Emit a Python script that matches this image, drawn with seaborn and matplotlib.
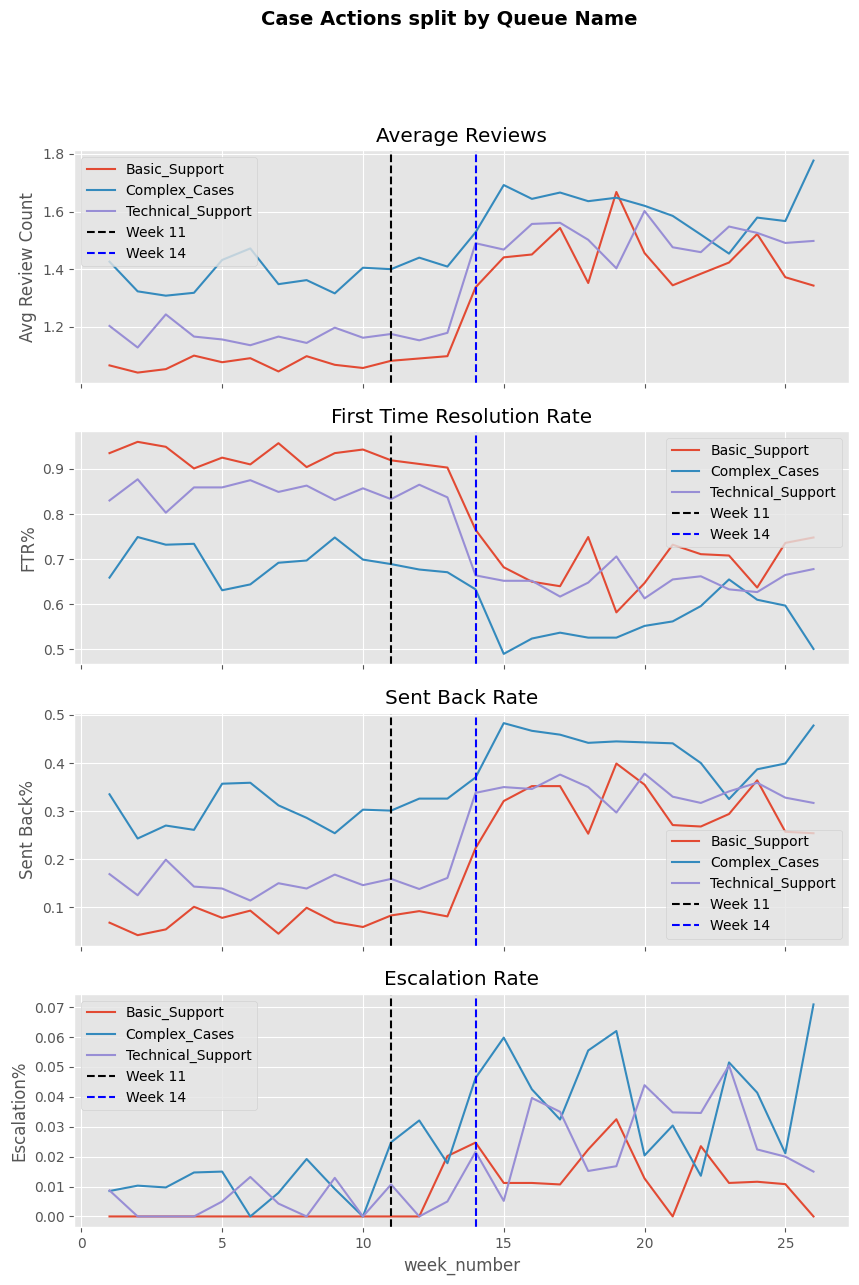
"""Case actions per queue: weekly metrics with marker lines for weeks 11 and 14."""

import matplotlib

matplotlib.use("Agg")
import matplotlib.pyplot as plt
import seaborn as sns

weeks = list(range(1, 27))
queues = ["Basic_Support", "Complex_Cases", "Technical_Support"]

avg_reviews = {
    "Basic_Support": [1.066, 1.041, 1.053, 1.100, 1.077, 1.091, 1.045, 1.098, 1.068, 1.057,
                      1.082, 1.090, 1.098, 1.337, 1.441, 1.451, 1.543, 1.352, 1.668, 1.456,
                      1.344, 1.384, 1.423, 1.522, 1.372, 1.343],
    "Complex_Cases": [1.426, 1.323, 1.308, 1.318, 1.432, 1.472, 1.348, 1.362, 1.316, 1.405,
                      1.400, 1.440, 1.409, 1.528, 1.692, 1.644, 1.666, 1.636, 1.648, 1.620,
                      1.585, 1.520, 1.454, 1.579, 1.567, 1.777],
    "Technical_Support": [1.203, 1.128, 1.243, 1.166, 1.156, 1.136, 1.166, 1.144, 1.197, 1.162,
                          1.175, 1.153, 1.179, 1.490, 1.468, 1.557, 1.561, 1.502, 1.403, 1.602,
                          1.476, 1.459, 1.548, 1.526, 1.491, 1.498],
}

ftr_rate = {
    "Basic_Support": [0.935, 0.960, 0.949, 0.901, 0.925, 0.910, 0.957, 0.904, 0.935, 0.943,
                      0.919, 0.911, 0.903, 0.765, 0.682, 0.650, 0.640, 0.749, 0.582, 0.647,
                      0.732, 0.711, 0.708, 0.637, 0.736, 0.748],
    "Complex_Cases": [0.659, 0.749, 0.732, 0.734, 0.631, 0.644, 0.692, 0.697, 0.748, 0.699,
                      0.689, 0.677, 0.671, 0.633, 0.490, 0.524, 0.537, 0.526, 0.526, 0.552,
                      0.562, 0.596, 0.655, 0.610, 0.597, 0.501],
    "Technical_Support": [0.830, 0.877, 0.803, 0.859, 0.859, 0.875, 0.849, 0.863, 0.831, 0.857,
                          0.833, 0.865, 0.837, 0.664, 0.652, 0.652, 0.617, 0.648, 0.706, 0.613,
                          0.655, 0.662, 0.633, 0.627, 0.665, 0.678],
}

sent_back_rate = {
    "Basic_Support": [0.068, 0.042, 0.054, 0.101, 0.078, 0.093, 0.045, 0.099, 0.069, 0.059,
                      0.083, 0.092, 0.081, 0.223, 0.321, 0.352, 0.352, 0.253, 0.399, 0.355,
                      0.271, 0.268, 0.294, 0.364, 0.257, 0.254],
    "Complex_Cases": [0.335, 0.243, 0.270, 0.261, 0.357, 0.359, 0.312, 0.286, 0.254, 0.303,
                      0.301, 0.326, 0.326, 0.370, 0.483, 0.467, 0.459, 0.442, 0.445, 0.443,
                      0.441, 0.400, 0.325, 0.387, 0.399, 0.478],
    "Technical_Support": [0.169, 0.125, 0.199, 0.143, 0.139, 0.114, 0.150, 0.139, 0.168, 0.146,
                          0.159, 0.138, 0.161, 0.338, 0.350, 0.346, 0.376, 0.350, 0.297, 0.378,
                          0.330, 0.317, 0.341, 0.359, 0.328, 0.317],
}

escalation_rate = {
    "Basic_Support": [0.0, 0.0, 0.0, 0.0, 0.0, 0.0, 0.0, 0.0, 0.0, 0.0,
                      0.0, 0.0, 0.0202, 0.0247, 0.0112, 0.0112, 0.0107, 0.0224, 0.0325, 0.0127,
                      0.0, 0.0235, 0.0112, 0.0116, 0.0108, 0.0],
    "Complex_Cases": [0.0085, 0.0103, 0.0097, 0.0147, 0.0150, 0.0, 0.0079, 0.0192, 0.0092, 0.0,
                      0.0248, 0.0321, 0.0178, 0.0463, 0.0598, 0.0425, 0.0324, 0.0555, 0.0620, 0.0204,
                      0.0304, 0.0136, 0.0515, 0.0414, 0.0211, 0.0709],
    "Technical_Support": [0.0087, 0.0, 0.0, 0.0, 0.0050, 0.0132, 0.0043, 0.0, 0.0129, 0.0,
                          0.0107, 0.0, 0.0050, 0.0216, 0.0052, 0.0396, 0.0350, 0.0152, 0.0168, 0.0439,
                          0.0348, 0.0346, 0.0505, 0.0224, 0.0200, 0.0150],
}

panel_titles = ["Average Reviews", "First Time Resolution Rate", "Sent Back Rate", "Escalation Rate"]
panel_ylabels = ["Avg Review Count", "FTR%", "Sent Back%", "Escalation%"]
panel_data = [avg_reviews, ftr_rate, sent_back_rate, escalation_rate]
legend_locs = ["upper left", "upper right", "lower right", "upper left"]

plt.style.use("ggplot")
colors = {"Basic_Support": "#E24A33", "Complex_Cases": "#348ABD", "Technical_Support": "#988ED5"}

fig, axes = plt.subplots(4, 1, figsize=(8.59, 12.85), dpi=100, sharex=True)
fig.subplots_adjust(left=0.0865, right=0.988, top=0.8833, bottom=0.0451, hspace=0.206)
fig.suptitle("Case Actions split by Queue Name", fontsize=14, fontweight="bold", x=0.523, y=0.992)

for ax, title, ylabel, data, loc in zip(axes, panel_titles, panel_ylabels, panel_data, legend_locs):
    for q in queues:
        sns.lineplot(x=weeks, y=data[q], label=q, color=colors[q], linewidth=1.5, ax=ax)
    ax.axvline(11, color="black", linestyle="--", linewidth=1.5, label="Week 11")
    ax.axvline(14, color="blue", linestyle="--", linewidth=1.5, label="Week 14")
    ax.set_title(title)
    ax.set_ylabel(ylabel)
    ax.set_xlabel("")
    ax.legend(loc=loc)

axes[-1].set_xlabel("week_number")

plt.savefig("out.png", dpi=100)
